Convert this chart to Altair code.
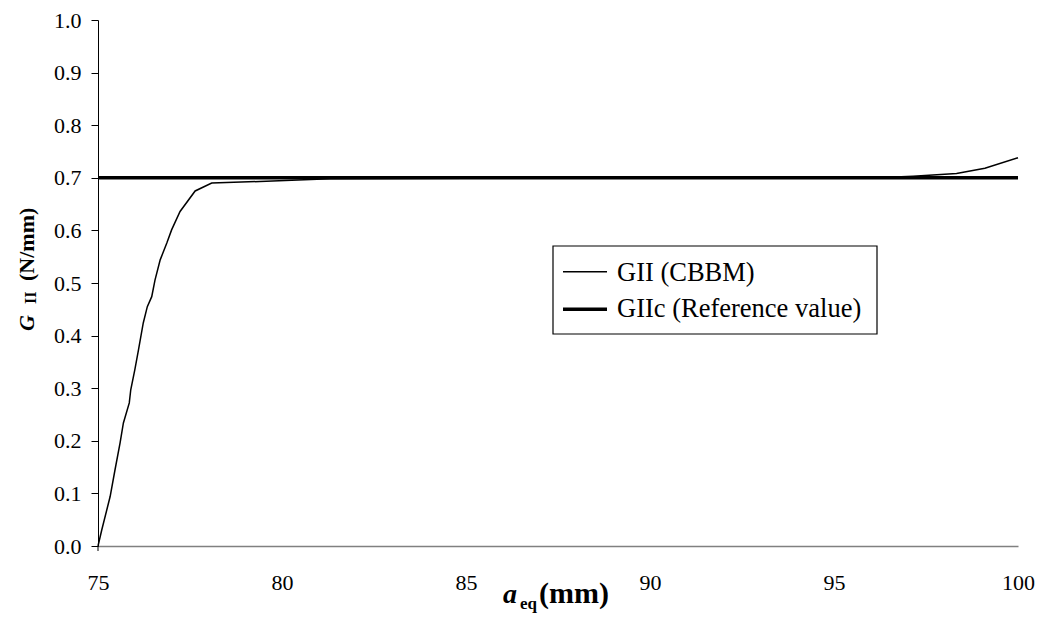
import altair as alt
import pandas as pd

# --- data ---
a_eq = [75.0, 75.1, 75.33, 75.46, 75.6, 75.69, 75.85, 75.89, 76.0, 76.1, 76.23,
        76.34, 76.46, 76.55, 76.69, 76.87, 77.0, 77.23, 77.64, 78.09, 79.4,
        81.3, 85.0, 90.0, 95.0, 96.5, 97.15, 98.33, 99.1, 100.0]
g_cbbm = [0.0, 0.03, 0.094, 0.144, 0.196, 0.234, 0.272, 0.297, 0.335, 0.373, 0.424,
          0.455, 0.474, 0.506, 0.544, 0.576, 0.601, 0.636, 0.675, 0.690, 0.693,
          0.698, 0.699, 0.699, 0.700, 0.701, 0.703, 0.708, 0.718, 0.738]
ref_x = [75.0, 100.0]
ref_y = [0.7, 0.7]
x_ticks = [75, 80, 85, 90, 95, 100]
y_ticks = [0.0, 0.1, 0.2, 0.3, 0.4, 0.5, 0.6, 0.7, 0.8, 0.9, 1.0]
legend_labels = ["GII (CBBM)", "GIIc (Reference value)"]

FONT = "Liberation Serif"
W, H = 920, 526

df_curve = pd.DataFrame({"x": a_eq, "y": g_cbbm})
df_ref = pd.DataFrame({"x": ref_x, "y": ref_y})

x_axis = alt.Axis(title=None, values=x_ticks, labelFont=FONT, labelFontSize=22,
                  labelColor="black", domainColor="#808080", domainWidth=1.5,
                  ticks=False, tickSize=0, labelPadding=26, labelFlush=False,
                  labelOverlap=False, grid=False)
y_axis = alt.Axis(title=None, values=y_ticks, format=".1f", labelFont=FONT,
                  labelFontSize=22, labelColor="black", domainColor="black",
                  tickColor="black", tickSize=7, labelPadding=10, labelFlush=False,
                  labelOverlap=False, grid=False)

xs = alt.Scale(domain=[75, 100], nice=False, zero=False)
ys = alt.Scale(domain=[0, 1], nice=False)

curve = alt.Chart(df_curve).mark_line(color="black", strokeWidth=1.5).encode(
    x=alt.X("x:Q", scale=xs, axis=x_axis),
    y=alt.Y("y:Q", scale=ys, axis=y_axis),
)
ref = alt.Chart(df_ref).mark_line(color="black", strokeWidth=3.5).encode(
    x=alt.X("x:Q", scale=xs, axis=x_axis),
    y=alt.Y("y:Q", scale=ys, axis=y_axis),
)

one = pd.DataFrame({"k": [0]})

def txt(s, x, y, size, weight="normal", style="normal", angle=0, align="left"):
    return alt.Chart(one).mark_text(
        text=s, font=FONT, fontSize=size, fontWeight=weight, fontStyle=style,
        angle=angle, align=align, baseline="alphabetic", color="black"
    ).encode(x=alt.value(x), y=alt.value(y))

# legend box
leg_box = alt.Chart(one).mark_rect(fill="white", stroke="black", strokeWidth=1.2).encode(
    x=alt.value(455), x2=alt.value(779), y=alt.value(226), y2=alt.value(314))
leg_l1 = alt.Chart(one).mark_rule(color="black", strokeWidth=1.5).encode(
    x=alt.value(465), x2=alt.value(509), y=alt.value(251.7))
leg_l2 = alt.Chart(one).mark_rule(color="black", strokeWidth=3.5).encode(
    x=alt.value(465), x2=alt.value(509), y=alt.value(289.3))
leg_t1 = txt(legend_labels[0], 519, 260.7, 26.5)
leg_t2 = txt(legend_labels[1], 519, 296.7, 26.5)

# small extension of the value axis below the category axis
y_ext = alt.Chart(one).mark_rule(color="black", strokeWidth=1).encode(
    x=alt.value(0), y=alt.value(H), y2=alt.value(H + 5))

# axis titles composed of pieces (italic symbol + subscript)
xt_a = txt("a", 405, 583, 28, weight="bold", style="italic")
xt_eq = txt("eq", 422, 589, 17, weight="bold")
xt_mm = txt("(mm)", 441, 583, 30, weight="bold")

yt_g = txt("G", -64, 311, 22, weight="bold", style="italic", angle=270)
yt_ii = txt("II", -62, 284, 16, weight="bold", angle=270)
yt_nmm = txt("(N/mm)", -64, 261, 22, weight="bold", angle=270)

chart = alt.layer(
    curve, ref, y_ext, leg_box, leg_l1, leg_l2, leg_t1, leg_t2,
    xt_a, xt_eq, xt_mm, yt_g, yt_ii, yt_nmm
).properties(
    width=W, height=H,
    autosize=alt.AutoSizeParams(type="none"),
    padding={"left": 98, "top": 20, "right": 24, "bottom": 75},
    background="white",
).configure_view(stroke=None)

chart.save("out.html", embed_options={"renderer": "svg", "actions": False})
